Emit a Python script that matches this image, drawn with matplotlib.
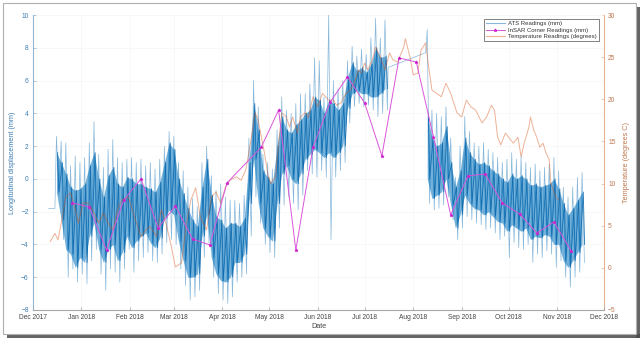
import numpy as np
import pandas as pd
import matplotlib
matplotlib.use("Agg")
import matplotlib.pyplot as plt
import matplotlib.dates as mdates
from matplotlib.lines import Line2D
from matplotlib.patches import Rectangle

plt.rcParams['font.family'] = ['Liberation Sans', 'DejaVu Sans']

t0 = pd.Timestamp('2017-12-01')

# ATS extensometer, 3-day bins: outer spikes and dense core (mm)
ats1_ohi = [2.6, 2.3, 2.2, 0.8, 1.4, 1.0, 1.3, 2.2, 3.5, 1.5, 0.7, 1.8, 2.4, 1.3, 1.0, 1.2, 1.3, 1.0,
            1.2, 0.8, 1.0, 0.6, 1.2, 2.0, 2.9, 2.6, 1.0, 0.5, -0.5, -1.2, -1.7, 1.0, 2.0, 0.2, -0.7, -0.3,
            -1.1, -1.3, -1.3, -1.5, -1.0, 2.5, 6.0, 4.4, 1.5, 1.0, 0.6, 3.0, 5.0, 4.2, 4.0, 4.6, 5.2, 5.2,
            5.8, 7.4, 7.2, 5.0, 10.0, 6.0, 5.5, 6.0, 7.2, 8.1, 7.5, 7.9, 7.6, 8.6, 9.8, 8.6, 9.7]
ats1_olo = [-1.0, -3.7, -6.0, -5.5, -6.3, -5.8, -6.4, -5.0, -4.3, -5.8, -6.8, -5.5, -5.7, -6.3, -5.5, -4.3, -5.7, -5.0,
            -4.8, -4.5, -5.0, -5.1, -4.6, -3.9, -3.7, -4.0, -5.5, -6.5, -7.4, -7.2, -6.8, -4.8, -3.9, -6.0, -7.0, -7.4,
            -7.6, -7.2, -6.3, -6.0, -5.8, -3.5, -1.1, -2.7, -4.0, -4.5, -4.8, -3.0, -1.6, -1.1, -1.5, -1.9, -1.0, 0.5,
            0.3, 0.1, 0.5, 0.1, -3.7, 0.1, 0.5, 1.0, 3.4, 4.4, 4.6, 4.4, 4.5, 4.2, 3.8, 4.0, 4.2]
ats1_chi = [1.6, 1.0, 0.3, -0.5, -0.7, -0.6, -0.3, 0.8, 1.6, 0.0, -1.1, 0.2, 0.7, -0.3, -0.5, 0.1, 0.0, -0.3,
            -0.3, -0.5, -0.6, -0.8, -0.2, 1.0, 2.2, 1.8, 0.0, -0.9, -1.8, -2.5, -2.9, -0.5, 1.2, -1.0, -2.3, -2.5,
            -3.0, -2.7, -2.7, -2.9, -2.4, 1.0, 4.6, 3.0, 0.5, 0.1, -0.3, 2.0, 3.8, 3.0, 2.8, 3.3, 3.6, 4.0,
            4.2, 5.0, 4.8, 4.0, 4.8, 4.6, 4.2, 4.6, 6.2, 7.1, 6.6, 6.8, 6.5, 7.0, 8.0, 7.4, 7.5]
ats1_clo = [-0.8, -2.5, -4.3, -4.6, -5.4, -4.8, -5.1, -3.5, -2.7, -4.3, -5.1, -4.3, -4.0, -5.0, -4.5, -3.5, -4.2, -3.8,
            -3.5, -3.3, -3.9, -4.2, -3.6, -2.4, -1.9, -2.2, -3.8, -5.0, -6.0, -6.0, -5.8, -3.5, -2.2, -4.8, -5.8, -6.2,
            -6.3, -6.0, -5.1, -5.1, -4.6, -1.5, 1.2, -1.5, -3.0, -3.5, -3.8, -1.5, 0.3, 0.8, 0.0, -0.3, 0.3, 1.2,
            1.5, 1.8, 1.6, 1.3, 1.6, 1.3, 1.6, 2.0, 4.3, 5.2, 5.4, 5.2, 5.2, 5.0, 5.0, 5.2, 5.5]

ats2_ohi = [9.1, 4.2, 4.0, 3.8, 4.4, 2.5, 0.1, 2.0, 3.8, 2.9, 2.2, 2.0, 2.2, 1.8, 1.6, 1.3, 1.0,
            1.2, 1.6, 1.2, 1.4, 1.0, 0.7, 0.9, 0.5, 0.7, 0.9, 1.3, 0.5, -0.5, -1.1, -0.5, 0.1, 0.4]
ats2_olo = [-1.5, -1.9, -1.8, -1.6, -1.1, -2.5, -3.7, -3.0, -2.3, -2.5, -2.7, -2.8, -3.1, -3.0, -3.3, -3.7, -3.5,
            -4.8, -3.9, -4.2, -4.3, -4.0, -5.1, -4.6, -4.8, -4.4, -4.6, -5.4, -5.0, -6.0, -6.6, -6.0, -5.7, -5.1]
ats2_chi = [4.0, 2.5, 2.0, 2.2, 3.2, 1.0, -0.5, 0.5, 2.5, 1.6, 1.2, 0.9, 1.0, 0.8, 0.5, 0.3, 0.0,
            -0.2, 0.3, 0.0, 0.2, 0.0, -0.4, -0.3, -0.5, -0.4, -0.3, 0.0, -0.6, -1.5, -2.2, -1.8, -1.3, -0.8]
ats2_clo = [0.0, -1.2, -1.0, -0.8, 0.0, -1.6, -3.0, -2.2, -1.0, -1.5, -1.8, -1.9, -2.2, -2.0, -2.3, -2.6, -2.7,
            -3.2, -2.8, -3.0, -3.2, -3.0, -3.7, -3.5, -3.6, -3.4, -3.5, -4.0, -4.0, -5.0, -5.4, -5.0, -4.5, -4.0]

ats1_dates = pd.date_range('2017-12-16', periods=len(ats1_ohi), freq='3D')
ats2_dates = pd.date_range('2018-08-10', periods=len(ats2_ohi), freq='3D')

# flat stretch before logging starts and the straight join over the outage
ats_head = (pd.to_datetime(['2017-12-11', '2017-12-15']), [-1.8, -1.8])
ats_gap = (pd.to_datetime(['2018-07-16', '2018-08-09']), [6.8, 7.7])

# InSAR corner reflector (11-day repeat), mm
insar_dates = pd.to_datetime([
    '2017-12-26', '2018-01-06', '2018-01-17', '2018-01-28', '2018-02-08', '2018-02-19',
    '2018-03-02', '2018-03-13', '2018-03-24', '2018-04-04', '2018-04-26', '2018-05-07',
    '2018-05-18', '2018-05-29', '2018-06-09', '2018-06-20', '2018-07-01', '2018-07-12',
    '2018-07-23', '2018-08-03', '2018-08-14', '2018-08-25', '2018-09-05', '2018-09-16',
    '2018-09-27', '2018-10-08', '2018-10-19', '2018-10-30', '2018-11-10'])
insar_mm = [-1.47, -1.71, -4.34, -1.29, 0.0, -3.0, -1.65, -3.67, -4.03, -0.25, 1.95, 4.2,
            -4.34, 1.95, 4.69, 6.22, 4.63, 1.4, 7.38, 7.13, 2.56, -2.2, 0.18, 0.3,
            -1.47, -2.14, -3.3, -2.63, -4.4]

# air temperature, days since 1 Dec 2017 and degrees C
temp_day = [11, 14, 16, 18, 21, 24, 27, 29, 32, 35, 38, 42, 45, 48, 51, 54, 57, 61, 65, 69, 72, 75, 79,
            82, 85, 88, 91, 95, 98, 101, 104, 107, 111, 114, 117, 120, 123, 126, 130, 133, 136, 139,
            142, 144, 146, 148, 150, 152, 155, 157, 159, 162, 164, 166, 169, 171, 174, 176, 179, 182,
            185, 189, 192, 194, 197, 200, 203, 206, 208, 210, 212, 214, 217, 219, 222, 225, 228, 230,
            233, 237, 238, 241, 243, 246, 248, 251, 253, 255, 258, 261, 264, 267, 271, 274, 277, 280,
            283, 287, 290, 293, 295, 297, 299, 302, 304, 307, 310, 312, 314, 317, 318, 320, 322, 324,
            326, 328, 330, 331, 334, 336]
temp_c = [3.1, 4.1, 3.3, 5.3, 8.4, 8.9, 6.9, 5.3, 7.7, 7.7, 6.9, 5.3, 6.5, 5.3, 4.5, 6.9, 8.1, 8.4, 6.0,
          3.7, 4.5, 4.9, 3.7, 6.9, 5.3, 2.9, 0.1, 0.6, 5.3, 8.1, 9.5, 6.0, 4.5, 8.4, 9.0, 7.7, 9.6, 10.4,
          10.8, 10.4, 11.6, 14.8, 18.4, 17.5, 15.5, 13.6, 11.2, 10.0, 10.8, 14.8, 18.4, 17.9, 16.7, 17.9,
          16.0, 17.9, 18.4, 17.8, 20.3, 19.1, 20.7, 19.9, 19.9, 19.3, 19.6, 20.7, 21.1, 22.3, 23.5, 23.1,
          24.3, 23.5, 24.7, 26.2, 25.0, 23.5, 25.5, 24.7, 24.4, 26.2, 27.2, 25.0, 22.9, 23.1, 25.8, 26.7,
          23.8, 21.1, 20.7, 20.3, 21.9, 20.7, 18.4, 17.9, 19.9, 19.1, 18.7, 17.2, 17.9, 19.3, 18.7, 15.5,
          14.6, 16.0, 15.5, 14.8, 15.5, 13.2, 14.8, 16.7, 17.9, 16.4, 15.5, 14.3, 14.8, 13.6, 12.8, 10.1,
          8.4, 8.1]
temp_dates = t0 + pd.to_timedelta(temp_day, unit='D')

blue = '#0072BD'
orange = '#D95319'
magenta = '#DA55DA'


def mm2c(v):
    return -5 + (np.asarray(v) + 8) * 35.0 / 18.0


def c2mm(c):
    return -8 + (np.asarray(c) + 5) * 18.0 / 35.0


def zigzag(dates, hi, lo, shift, half=36):
    # alternate high / low readings so the trace fills the band like the raw record
    x = np.empty(2 * len(dates), dtype='datetime64[ns]')
    y = np.empty(2 * len(dates))
    x[0::2] = (dates + pd.Timedelta(hours=shift)).values
    x[1::2] = (dates + pd.Timedelta(hours=shift + half)).values
    y[0::2] = hi
    y[1::2] = lo
    return x, y


fig = plt.figure(figsize=(6.41, 3.41), dpi=100)
ax = fig.add_axes([33 / 641, 1 - 310 / 341, 571 / 641, 295 / 341])

# light outer spikes
x1, y1 = zigzag(ats1_dates, ats1_ohi, ats1_olo, 0)
x2, y2 = zigzag(ats2_dates, ats2_ohi, ats2_olo, 0)
ox = np.concatenate([ats_head[0].values, x1, ats_gap[0].values, x2])
oy = np.concatenate([ats_head[1], y1, ats_gap[1], y2])
ax.plot(ox, oy, color='#5fa0cf', lw=0.5, alpha=0.75, zorder=2)

# dense core of the record
for d, hi, lo in [(ats1_dates, ats1_chi, ats1_clo), (ats2_dates, ats2_chi, ats2_clo)]:
    ax.fill_between(d, lo, hi, color=blue, alpha=0.55, lw=0, zorder=3)
    cx, cy = zigzag(d, hi, lo, 18, half=20)
    ax.plot(cx, cy, color='#0a68ad', lw=0.6, alpha=0.9, zorder=3)

ax.plot(temp_dates, c2mm(temp_c), color=orange, lw=0.7, alpha=0.45, zorder=4)
ax.plot(insar_dates, insar_mm, color=magenta, lw=0.7, marker='*', ms=2.4,
        mfc='#CC22CC', mec='#CC22CC', mew=0.5, zorder=5)

ax.set_xlim(pd.Timestamp('2017-12-01'), pd.Timestamp('2018-12-01'))
ax.set_ylim(-8, 10)
ax.set_yticks(range(-8, 11, 2))
ax.xaxis.set_major_locator(mdates.MonthLocator())
ax.xaxis.set_major_formatter(mdates.DateFormatter('%b %Y'))
ax.grid(True, color='#f5f5f5', lw=0.5)
ax.set_axisbelow(True)

ax.spines['top'].set_visible(False)
ax.spines['right'].set_visible(False)
ax.spines['left'].set_color('#8fb5d3')
ax.spines['bottom'].set_color('#a8a8a8')
for s in ax.spines.values():
    s.set_linewidth(0.8)
ax.tick_params(axis='x', direction='in', length=2.5, width=0.5, labelsize=4.8,
               colors='#a0a0a0', labelcolor='#444444', pad=3)
ax.tick_params(axis='y', direction='in', length=2.5, width=0.5, labelsize=4.8,
               colors='#8fb5d3', labelcolor='#3d7cb0', pad=3)
ax.set_xlabel('Date', fontsize=5.2, color='#444444', labelpad=1)
ax.set_ylabel('Longitudinal displacement (mm)', fontsize=5.2, color='#3d7cb0', labelpad=4)

sec = ax.secondary_yaxis('right', functions=(mm2c, c2mm))
sec.set_yticks(range(-5, 31, 5))
sec.spines['right'].set_color('#e2b598')
sec.spines['right'].set_linewidth(0.8)
sec.tick_params(direction='in', length=2.5, width=0.5, labelsize=4.8,
                colors='#e2b598', labelcolor='#c07850', pad=3)
sec.set_ylabel('Temperature (degrees C)', fontsize=5.2, color='#c07850', labelpad=5)

handles = [
    Line2D([], [], color='#5fa0cf', lw=0.8, alpha=0.75),
    Line2D([], [], color=magenta, lw=0.7, marker='*', ms=2.4, mfc='#CC22CC', mec='#CC22CC', mew=0.5),
    Line2D([], [], color=orange, lw=0.8, alpha=0.45),
]
labels = ['ATS Readings (mm)', 'InSAR Corner Readings (mm)', 'Temperature Readings (degrees)']
leg = ax.legend(handles, labels, loc='upper right', bbox_to_anchor=(599 / 641, 1 - 19 / 341),
                bbox_transform=fig.transFigure, fontsize=4.3, frameon=True, fancybox=False,
                edgecolor='#222222', handlelength=3.2, borderpad=0.35, labelspacing=0.2,
                handletextpad=0.6, borderaxespad=0)
leg.get_frame().set_linewidth(0.5)
for t in leg.get_texts():
    t.set_color('#333333')

# picture frame with drop shadow
fig.add_artist(Rectangle((7 / 641, 3 / 341), 633 / 641, 4 / 341, transform=fig.transFigure,
                         facecolor='#4a4a4a', edgecolor='none', alpha=0.85))
fig.add_artist(Rectangle((636 / 641, 3 / 341), 4 / 641, 331 / 341, transform=fig.transFigure,
                         facecolor='#4a4a4a', edgecolor='none', alpha=0.85))
fig.add_artist(Rectangle((3 / 641, 7 / 341), 633 / 641, 331 / 341, transform=fig.transFigure,
                         facecolor='none', edgecolor='#b0b0b0', lw=0.8))

fig.savefig('out.png', dpi=100)
